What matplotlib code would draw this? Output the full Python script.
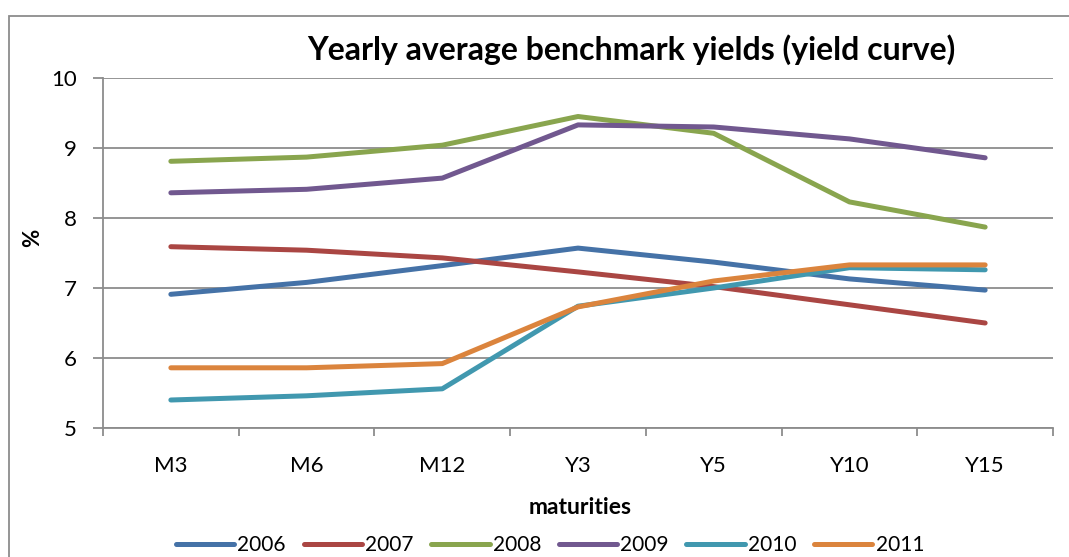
import matplotlib
matplotlib.use("Agg")
import matplotlib.pyplot as plt
from matplotlib.patches import Rectangle

plt.rcParams['font.family'] = ['Lato', 'DejaVu Sans']

maturities = ["M3", "M6", "M12", "Y3", "Y5", "Y10", "Y15"]
years = ["2006", "2007", "2008", "2009", "2010", "2011"]
y2006 = [6.91, 7.08, 7.32, 7.57, 7.37, 7.13, 6.97]
y2007 = [7.59, 7.54, 7.43, 7.23, 7.02, 6.76, 6.50]
y2008 = [8.81, 8.87, 9.04, 9.45, 9.21, 8.23, 7.87]
y2009 = [8.36, 8.41, 8.57, 9.33, 9.30, 9.13, 8.86]
y2010 = [5.40, 5.46, 5.56, 6.74, 7.00, 7.29, 7.26]
y2011 = [5.86, 5.86, 5.92, 6.73, 7.10, 7.33, 7.33]
series = [y2006, y2007, y2008, y2009, y2010, y2011]
colors = ["#4572A7", "#AA4643", "#89A54E", "#71588F", "#4198AF", "#DB843D"]

W, H = 1069, 557
fig = plt.figure(figsize=(W / 100, H / 100), dpi=100)
ax = fig.add_axes([103 / W, 1 - 428 / H, (1053 - 103) / W, (428 - 78) / H])

x = list(range(len(maturities)))
for vals, c, lab in zip(series, colors, years):
    ax.plot(x, vals, color=c, lw=3.6, label=lab, solid_capstyle='round', solid_joinstyle='round')

ax.set_xlim(-0.5, len(maturities) - 0.5)
ax.set_ylim(5, 10)
ax.set_yticks([5, 6, 7, 8, 9, 10])
ax.set_xticks(x)
ax.set_xticklabels(maturities, fontsize=16)
ax.set_xticks([i - 0.5 for i in range(len(maturities) + 1)], minor=True)
ax.tick_params(axis='x', which='major', length=0, pad=20)
ax.tick_params(axis='x', which='minor', length=6, width=1.3, color='#8c8c8c', direction='out')
ax.tick_params(axis='y', length=7, width=1.3, color='#8c8c8c', direction='out', labelsize=16, pad=12)
ax.grid(axis='y', color='#8c8c8c', lw=1.3)
ax.set_axisbelow(True)
for s in ['top', 'right']:
    ax.spines[s].set_visible(False)
for s in ['left', 'bottom']:
    ax.spines[s].set_color('#8c8c8c')
    ax.spines[s].set_linewidth(1.3)

fig.text(631 / W, 1 - 50 / H, "Yearly average benchmark yields (yield curve)", fontsize=23,
         fontweight='bold', ha='center', va='center')
fig.text(33 / W, 1 - 238 / H, "%", fontsize=16, fontweight='bold', rotation=90, ha='center', va='center')
fig.text(580 / W, 1 - 507 / H, "maturities", fontsize=16.5, fontweight='bold', ha='center', va='center')

handles, labels = ax.get_legend_handles_labels()
fig.legend(handles, labels, loc='center', bbox_to_anchor=(550 / W, 1 - 545 / H), ncol=6, frameon=False,
           fontsize=15, handlelength=2.8, handletextpad=0.15, columnspacing=0.85, borderaxespad=0)

fig.patches.append(Rectangle((9 / W, -0.1), 1.2, 1 - 16 / H + 0.1, transform=fig.transFigure,
                             fill=False, edgecolor='#8c8c8c', lw=1.3))

fig.savefig("out.png", dpi=100)
